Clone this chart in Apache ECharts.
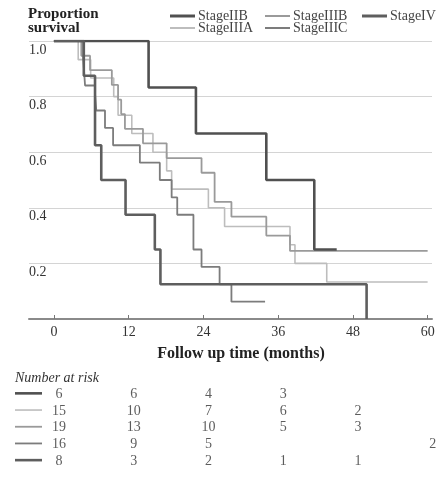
<!DOCTYPE html>
<html>
<head>
<meta charset="utf-8">
<script src="https://cdn.jsdelivr.net/npm/echarts@6/dist/echarts.min.js"></script>
<style>
  html, body { margin: 0; padding: 0; background: #fff; }
  #chart { width: 441px; height: 478px; }
</style>
</head>
<body>
<div id="chart"></div>
<script>
// Kaplan-Meier survival estimates, [month, proportion surviving]
const stageIIB = [[0,1],[15.2,0.833],[22.8,0.667],[34.1,0.5],[41.8,0.25],[45.4,0.25]];
const stageIIIA = [[0,1],[3.9,0.933],[5.9,0.867],[9.6,0.8],[10.3,0.733],[12.5,0.667],[15.9,0.6],[18.1,0.533],[18.9,0.467],[24.8,0.4],[27.4,0.333],[37.9,0.267],[38.7,0.2],[43.8,0.133],[60,0.133]];
const stageIIIB = [[0,1],[4.4,0.947],[5.8,0.895],[9.3,0.842],[10.3,0.789],[10.8,0.737],[11.4,0.684],[14.3,0.632],[18.1,0.579],[23.7,0.526],[25.8,0.421],[28.5,0.368],[34.1,0.3],[37.9,0.245],[60,0.245]];
const stageIIIC = [[0,1],[4.7,0.9375],[5.0,0.84],[6.6,0.81],[6.8,0.75],[8.2,0.6875],[9.5,0.625],[13.8,0.5625],[17.0,0.5],[18.9,0.4375],[19.8,0.375],[22.4,0.25],[23.7,0.1875],[26.6,0.125],[28.5,0.0625],[33.9,0.0625]];
const stageIV = [[0,1],[4.8,0.875],[6.6,0.625],[7.6,0.5],[11.5,0.375],[16.2,0.25],[17.1,0.125],[50.2,0]];

// Number at risk at each follow-up time
const riskTimes = [0, 12, 24, 36, 48, 60];
const riskIIB  = [6, 6, 4, 3, null, null];
const riskIIIA = [15, 10, 7, 6, 2, null];
const riskIIIB = [19, 13, 10, 5, 3, null];
const riskIIIC = [16, 9, 5, null, null, 2];
const riskIV   = [8, 3, 2, 1, 1, null];

const xTicks = [0, 12, 24, 36, 48, 60];

const FONT = '"Liberation Serif", "DejaVu Serif", serif';

const stages = [
  { name: 'StageIIB',  data: stageIIB,  risk: riskIIB,  color: '#505050', width: 2.6 },
  { name: 'StageIIIA', data: stageIIIA, risk: riskIIIA, color: '#bdbdbd', width: 1.6 },
  { name: 'StageIIIB', data: stageIIIB, risk: riskIIIB, color: '#9a9a9a', width: 1.8 },
  { name: 'StageIIIC', data: stageIIIC, risk: riskIIIC, color: '#7c7c7c', width: 1.8 },
  { name: 'StageIV',   data: stageIV,   risk: riskIV,   color: '#5e5e5e', width: 2.6 }
];

// legend placement: two rows of keys above the plot
const legendSlots = {
  StageIIB:  { left: 170, top: 9 },
  StageIIIB: { left: 265, top: 9 },
  StageIV:   { left: 362, top: 9 },
  StageIIIA: { left: 170, top: 21 },
  StageIIIC: { left: 265, top: 21 }
};

const chart = echarts.init(document.getElementById('chart'), null, { renderer: 'canvas' });

const X_MIN = -4, X_MAX = 60.7;

const survivalSeries = stages.map(s => ({
  name: s.name,
  type: 'line',
  xAxisIndex: 0,
  yAxisIndex: 0,
  step: 'end',
  symbol: 'none',
  data: s.data,
  lineStyle: { color: s.color, width: s.width },
  itemStyle: { color: s.color },
  z: 2 + (s.width > 2 ? 1 : 0),
  animation: false
}));

// at-risk counts as text placed on a second grid sharing the time scale
const riskData = [];
stages.forEach((s, row) => {
  s.risk.forEach((n, j) => {
    if (n !== null) riskData.push([riskTimes[j], row, n]);
  });
});

const riskSeries = {
  type: 'scatter',
  xAxisIndex: 1,
  yAxisIndex: 1,
  symbol: 'circle',
  symbolSize: 1,
  itemStyle: { color: 'rgba(0,0,0,0)' },
  data: riskData,
  silent: true,
  animation: false,
  label: {
    show: true,
    position: 'inside',
    offset: [5, 1],
    formatter: p => String(p.data[2]),
    fontFamily: FONT,
    fontSize: 14,
    color: '#333'
  }
};

// row keys for the at-risk table
const rowTop = 385, rowH = 16.7;
const rowKeys = stages.map((s, row) => ({
  type: 'line',
  shape: { x1: 15, y1: rowTop + rowH * (row + 0.5), x2: 42, y2: rowTop + rowH * (row + 0.5) },
  style: { stroke: s.color, lineWidth: s.width }
}));

const option = {
  backgroundColor: '#ffffff',
  animation: false,
  textStyle: { fontFamily: FONT },
  legend: stages.map(s => ({
    data: [{ name: s.name, icon: 'rect' }],
    left: legendSlots[s.name].left,
    top: legendSlots[s.name].top,
    itemWidth: 25,
    itemHeight: Math.round(s.width),
    itemGap: 0,
    padding: 0,
    selectedMode: false,
    itemStyle: { color: s.color, borderWidth: 0 },
    textStyle: { fontFamily: FONT, fontSize: 14, color: '#444', padding: [0, 0, 0, -2] }
  })),
  grid: [
    { left: 29, right: 9, top: 41, bottom: 159, containLabel: false, outerBoundsMode: 'none' },
    { left: 29, right: 9, top: rowTop, height: rowH * 5, containLabel: false, outerBoundsMode: 'none' }
  ],
  xAxis: [
    {
      type: 'value',
      gridIndex: 0,
      min: X_MIN,
      max: X_MAX,
      name: 'Follow up time (months)',
      nameLocation: 'middle',
      nameGap: 27,
      nameTextStyle: { fontFamily: FONT, fontSize: 16, fontWeight: 'bold', color: '#222', padding: [0, 0, 0, 21] },
      axisLine: { show: true, lineStyle: { color: '#8a8a8a', width: 2 } },
      axisTick: { show: true, inside: true, length: 4, customValues: xTicks, lineStyle: { color: '#777', width: 1 } },
      axisLabel: { show: true, customValues: xTicks, margin: 6, fontFamily: FONT, fontSize: 14, color: '#333' },
      splitLine: { show: false }
    },
    {
      type: 'value',
      gridIndex: 1,
      min: X_MIN,
      max: X_MAX,
      show: false
    }
  ],
  yAxis: [
    {
      type: 'value',
      gridIndex: 0,
      min: 0,
      max: 1,
      interval: 0.2,
      axisLine: { show: false },
      axisTick: { show: false },
      axisLabel: {
        show: true,
        inside: true,
        margin: 0,
        verticalAlign: 'top',
        padding: [2, 0, 0, 0],
        fontFamily: FONT,
        fontSize: 14,
        color: '#333',
        formatter: v => (v === 0 ? '' : v.toFixed(1))
      },
      splitLine: { show: true, lineStyle: { color: '#d4d4d4', width: 1 } }
    },
    {
      type: 'value',
      gridIndex: 1,
      min: -0.5,
      max: 4.5,
      inverse: true,
      show: false
    }
  ],
  graphic: [
    {
      type: 'text',
      left: 28,
      top: 7,
      style: {
        text: 'Proportion\nsurvival',
        fontFamily: FONT,
        fontSize: 15,
        fontWeight: 'bold',
        lineHeight: 14,
        fill: '#222'
      }
    },
    {
      type: 'text',
      left: 15,
      top: 371,
      style: {
        text: 'Number at risk',
        fontFamily: FONT,
        fontSize: 14,
        fontStyle: 'italic',
        fill: '#333'
      }
    },
    ...rowKeys
  ],
  series: [...survivalSeries, riskSeries]
};

chart.setOption(option);
</script>
</body>
</html>
